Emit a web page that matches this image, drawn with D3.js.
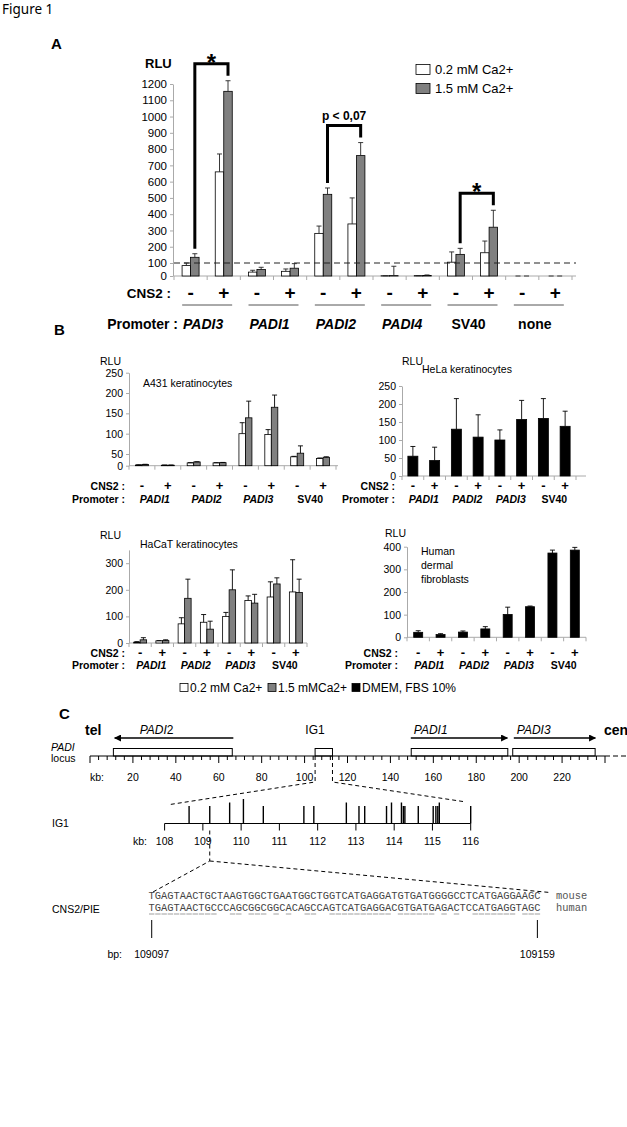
<!DOCTYPE html>
<html><head><meta charset="utf-8">
<script src="https://cdn.jsdelivr.net/npm/d3@7"></script>
<style>
body{margin:0;background:#fff;}
svg text{font-family:"Liberation Sans",Arial,sans-serif;fill:#000;}
</style></head><body>
<svg id="fig" width="627" height="1127"></svg>
<script>
// ---------- panel A data ----------
const aCats = ["PADI3-","PADI3+","PADI1-","PADI1+","PADI2-","PADI2+","PADI4-","PADI4+","SV40-","SV40+","none-","none+"];
const aPromoters = ["PADI3","PADI1","PADI2","PADI4","SV40","none"];
const aLow     = [80, 660, 30, 36, 282, 340, 2, 3, 105, 163, 0, 0];
const aLowErr  = [100, 770, 44, 54, 327, 500, 2, 3, 168, 235, 0, 0];
const aHigh    = [135, 1155, 50, 60, 522, 760, 3, 4, 153, 320, 0, 0];
const aHighErr = [157, 1220, 67, 95, 561, 840, 75, 8, 190, 424, 0, 0];
const aTicks = [0,100,200,300,400,500,600,700,800,900,1000,1100,1200];
const sigLeft = [0, 4, 8];            // index of the "-" bar of each compared pair
const sigLabels = ["*", "p < 0,07", "*"];
const legendA = ["0.2 mM Ca2+", "1.5 mM Ca2+"];

// ---------- panel B data ----------
const bCats = ["PADI1-","PADI1+","PADI2-","PADI2+","PADI3-","PADI3+","SV40-","SV40+"];
const bPromoters = ["PADI1","PADI2","PADI3","SV40"];
const a431Low     = [3, 2, 12, 12, 100, 98, 38, 31];
const a431LowErr  = [4, 3, 13, 13, 127, 110, 40, 33];
const a431High    = [5, 2, 16, 13, 139, 165, 52, 36];
const a431HighErr = [6, 3, 17, 14, 180, 195, 70, 38];
const hela        = [55, 43, 130, 108, 100, 157, 160, 138];
const helaErr     = [82, 80, 215, 170, 128, 210, 215, 180];
const hacatLow     = [3, 8, 72, 78, 100, 160, 173, 192];
const hacatLowErr  = [5, 9, 95, 107, 115, 177, 230, 313];
const hacatHigh    = [12, 9, 168, 52, 200, 150, 222, 190];
const hacatHighErr = [20, 12, 240, 82, 275, 183, 245, 240];
const fibro    = [22, 12, 23, 37, 101, 135, 372, 385];
const fibroErr = [29, 16, 28, 47, 133, 138, 385, 397];
const legendB = ["0.2 mM Ca2+", "1.5 mMCa2+", "DMEM, FBS 10%"];

// ---------- panel C data ----------
const locusTicks = d3.range(0, 241, 4);
const locusLabels = [20,40,60,80,100,120,140,160,180,200,220];
const geneNames = ["PADI2", "PADI1", "PADI3"];
const geneFrom  = [66.8, 149.5, 197.5];   // arrow tail (kb)
const geneTo    = [11.5, 194.5, 235.5];   // arrow head (kb)
const boxFrom   = [10.9, 149.7, 197.0];
const boxTo     = [66.3, 194.7, 235.4];
const ig1Box = [104.9, 113.0];
const ig1Ticks = [108,109,110,111,112,113,114,115,116];
const ig1Sites = [108.64,109.18,109.70,110.06,110.58,111.64,111.90,112.75,113.08,113.23,113.80,113.93,114.19,114.24,114.28,114.63,115.02,115.09,115.14,115.18,116.0];
const ig1Size  = [0,0,1,2,0,0,0,1,0,0,0,1,1,0,0,0,0,0,0,1,0];   // 0 short, 1 medium, 2 tall
const cnsKb = 109.18;
const mouseSeq = "TGAGTAACTGCTAAGTGGCTGAATGGCTGGTCATGAGGATGTGATGGGGCCTCATGAGGAAGC";
const humanSeq = "TGAGTAACTGCCCAGCGGCGGCACAGCCAGTCATGAGGACGTGATGAGACTCCATGAGGTAGC";
const bpLabels = ["109097", "109159"];

const svg = d3.select("#fig");
svg.append("rect").attr("width", 627).attr("height", 1127).attr("fill", "#fff");

function txt(x, y, s, size, opts = {}) {
  return svg.append("text").attr("x", x).attr("y", y).text(s)
    .attr("font-size", size)
    .attr("font-weight", opts.bold ? "bold" : null)
    .attr("font-style", opts.italic ? "italic" : null)
    .attr("text-anchor", opts.anchor || "start")
    .attr("dominant-baseline", "central")
    .style("font-family", opts.family || null)
    .style("fill", opts.fill || null);
}

function drawSeries(g, cats, x, y, vals, errs, fill, off, w, errColor) {
  const cx = i => x(cats[i]) + x.bandwidth() / 2 + off;
  g.append("g").selectAll("rect").data(vals).join("rect")
    .attr("x", (d, i) => cx(i) - w / 2).attr("y", d => y(d))
    .attr("width", w).attr("height", d => y(0) - y(d))
    .attr("fill", fill).attr("stroke", "#000").attr("stroke-width", 0.8);
  g.append("g").selectAll("path").data(errs).join("path")
    .attr("d", (e, i) => `M${cx(i)},${y(vals[i])}V${y(e)}M${cx(i) - 2.5},${y(e)}H${cx(i) + 2.5}`)
    .attr("stroke", errColor || "#222").attr("stroke-width", 0.9).attr("fill", "none");
}

function yAxis(y, ticks, xPos, size) {
  const a = svg.append("g").attr("transform", `translate(${xPos},0)`)
    .call(d3.axisLeft(y).tickValues(ticks).tickFormat(d3.format("d"))
      .tickSize(3).tickSizeOuter(0).tickPadding(3));
  a.select(".domain").attr("stroke", "#aaa");
  a.selectAll(".tick line").attr("stroke", "#aaa");
  a.selectAll("text").attr("font-size", size);
}

function xAxisBand(x, cats, yPos, extra) {
  const [x0, x1] = x.range();
  svg.append("line").attr("x1", x0).attr("x2", x1 + (extra || 0)).attr("y1", yPos).attr("y2", yPos)
    .attr("stroke", "#aaa");
  svg.append("g").selectAll("line").data(cats.map(c => x(c)).concat([x1])).join("line")
    .attr("x1", d => d).attr("x2", d => d).attr("y1", yPos).attr("y2", yPos + 4).attr("stroke", "#aaa");
}

function isPadi(p) { return p.startsWith("PADI"); }

// ================= PANEL A =================
txt(2, 9, "Figure 1", 13.5, {family: "'Noto Sans', sans-serif"});
txt(51, 43, "A", 15, {bold: true});
txt(145, 63, "RLU", 13, {bold: true});

const xA = d3.scaleBand().domain(aCats).range([174, 572]);
const yA = d3.scaleLinear().domain([0, 100, 1200]).range([276, 263, 84]);
yAxis(yA, aTicks, 173, 11.5);
xAxisBand(xA, aCats, 276, 4);
const gA = svg.append("g");
drawSeries(gA, aCats, xA, yA, aLow, aLowErr, "#fff", -4.25, 8.5);
drawSeries(gA, aCats, xA, yA, aHigh, aHighErr, "#808080", 4.25, 8.5);

// threshold line at 100 RLU
svg.append("line").attr("x1", 174).attr("x2", 576).attr("y1", yA(100)).attr("y2", yA(100))
  .attr("stroke", "#222").attr("stroke-width", 1.1).attr("stroke-dasharray", "6,4");

// significance brackets
sigLeft.forEach((i, k) => {
  const xl = xA(aCats[i]) + xA.bandwidth() / 2 + 4.25;
  const xr = xA(aCats[i + 1]) + xA.bandwidth() / 2 + 4.25;
  const yl = yA(aHighErr[i]) - 5, yr = yA(aHighErr[i + 1]) - 5;
  const top = Math.min(yl, yr) - 12;
  svg.append("path").attr("d", `M${xl},${yl}V${top}H${xr}V${yr}`)
    .attr("fill", "none").attr("stroke", "#000").attr("stroke-width", 3);
  const lab = sigLabels[k];
  if (lab === "*") {
    svg.append("text").attr("x", (xl + xr) / 2).attr("y", top + 7).text(lab)
      .attr("font-size", 24).attr("font-weight", "bold").attr("text-anchor", "middle");
  } else {
    txt((xl + xr) / 2, top - 10, lab, 12, {bold: true, anchor: "middle"});
  }
});

// legend A
legendA.forEach((l, i) => {
  svg.append("rect").attr("x", 416).attr("y", 64.5 + i * 19).attr("width", 14).attr("height", 10)
    .attr("fill", i ? "#808080" : "#fff").attr("stroke", "#000").attr("stroke-width", 0.8);
  txt(435, 69.5 + i * 19, l, 13);
});

// CNS2 / promoter rows
txt(171, 293, "CNS2 :", 13.5, {bold: true, anchor: "end"});
aCats.forEach(c => {
  txt(xA(c) + xA.bandwidth() / 2, 292, c.endsWith("+") ? "+" : "-", 19, {bold: true, anchor: "middle"});
});
txt(178, 324, "Promoter :", 14, {bold: true, anchor: "end"});
aPromoters.forEach((p, k) => {
  const cx = xA(aCats[2 * k]) + xA.bandwidth();
  svg.append("line").attr("x1", cx - 25).attr("x2", cx + 25).attr("y1", 305).attr("y2", 305)
    .attr("stroke", "#555").attr("stroke-width", 1);
  txt(cx - 4, 324, p, 14, {bold: true, italic: isPadi(p), anchor: "middle"});
});

// ================= PANEL B =================
txt(54, 329, "B", 15, {bold: true});

function chartB(cfg) {
  yAxis(cfg.y, cfg.ticks, cfg.x.range()[0], 10.5);
  xAxisBand(cfg.x, bCats, cfg.y(0), cfg.extra);
  const g = svg.append("g");
  cfg.series.forEach(s => drawSeries(g, bCats, cfg.x, cfg.y, s.vals, s.errs, s.fill, s.off, s.w, "#000"));
  txt(cfg.rlu[0], cfg.rlu[1], "RLU", 10.5);
  cfg.title.forEach((t, i) => txt(cfg.titlePos[0], cfg.titlePos[1] + i * 14.2, t, 10.5));
  txt(cfg.labelRight, cfg.rowY[0], "CNS2 :", 10.5, {bold: true, anchor: "end"});
  txt(cfg.labelRight, cfg.rowY[1], "Promoter :", 10.5, {bold: true, anchor: "end"});
  bCats.forEach(c => txt(cfg.x(c) + cfg.x.bandwidth() / 2, cfg.rowY[0] - 1, c.endsWith("+") ? "+" : "-", 13, {bold: true, anchor: "middle"}));
  bPromoters.forEach((p, k) => txt(cfg.x(bCats[2 * k]) + cfg.x.bandwidth(), cfg.rowY[1], p, 10.5,
    {bold: true, italic: isPadi(p), anchor: "middle"}));
}

chartB({
  x: d3.scaleBand().domain(bCats).range([129, 336]),
  y: d3.scaleLinear().domain([0, 50, 250]).range([465.7, 454, 372.7]),
  ticks: [0, 50, 100, 150, 200, 250],
  series: [{vals: a431Low, errs: a431LowErr, fill: "#fff", off: -3.25, w: 6.5},
           {vals: a431High, errs: a431HighErr, fill: "#808080", off: 3.25, w: 6.5}],
  rlu: [100, 361], title: ["A431 keratinocytes"], titlePos: [143, 383],
  rowY: [486, 498.5], labelRight: 125, extra: 2
});
chartB({
  x: d3.scaleBand().domain(bCats).range([402, 576]),
  y: d3.scaleLinear().domain([0, 250]).range([476, 386]),
  ticks: [0, 50, 100, 150, 200, 250],
  series: [{vals: hela, errs: helaErr, fill: "#000", off: 0, w: 10}],
  rlu: [402, 361], title: ["HeLa keratinocytes"], titlePos: [422, 369],
  rowY: [486, 498.5], labelRight: 395, extra: 10
});
chartB({
  x: d3.scaleBand().domain(bCats).range([129, 307]),
  y: d3.scaleLinear().domain([0, 350]).range([643, 549.9]),
  ticks: [0, 100, 200, 300],
  series: [{vals: hacatLow, errs: hacatLowErr, fill: "#fff", off: -3.25, w: 6.5},
           {vals: hacatHigh, errs: hacatHighErr, fill: "#808080", off: 3.25, w: 6.5}],
  rlu: [100, 535], title: ["HaCaT keratinocytes"], titlePos: [140, 543.5],
  rowY: [653, 664.5], labelRight: 125, extra: 0
});
chartB({
  x: d3.scaleBand().domain(bCats).range([407, 586]),
  y: d3.scaleLinear().domain([0, 400]).range([637.3, 546.7]),
  ticks: [0, 100, 200, 300, 400],
  series: [{vals: fibro, errs: fibroErr, fill: "#000", off: 0, w: 9}],
  rlu: [385, 533], title: ["Human", "dermal", "fibroblasts"], titlePos: [421, 551],
  rowY: [653, 664.5], labelRight: 398, extra: 0
});

// legend B
const legBx = [180, 268, 352];
const legFill = ["#fff", "#808080", "#000"];
legendB.forEach((l, i) => {
  svg.append("rect").attr("x", legBx[i]).attr("y", 683.5).attr("width", 8).attr("height", 8)
    .attr("fill", legFill[i]).attr("stroke", "#000").attr("stroke-width", 0.8);
  txt(legBx[i] + 10, 688, l, 12);
});

// ================= PANEL C =================
txt(59, 713, "C", 15, {bold: true});
const xk = d3.scaleLinear().domain([0, 240]).range([90, 605]);
const yLoc = 756;

txt(85, 730, "tel", 14, {bold: true});
txt(604, 730, "cen", 14, {bold: true});
txt(315, 730, "IG1", 12, {anchor: "middle"});
txt(51, 746.5, "PADI", 10.5, {italic: true});
txt(51, 757.5, "locus", 10.5);
txt(90, 777, "kb:", 10.5);

svg.append("defs").append("marker").attr("id", "ah").attr("viewBox", "0 0 10 10")
  .attr("refX", 9).attr("refY", 5).attr("markerWidth", 9).attr("markerHeight", 7)
  .attr("markerUnits", "userSpaceOnUse").attr("orient", "auto")
  .append("path").attr("d", "M0,0L10,5L0,10Z").attr("fill", "#000");

geneNames.forEach((n, i) => {
  svg.append("line").attr("x1", xk(geneFrom[i])).attr("x2", xk(geneTo[i]))
    .attr("y1", 738).attr("y2", 738).attr("stroke", "#000").attr("stroke-width", 1.6)
    .attr("marker-end", "url(#ah)");
  svg.append("rect").attr("x", xk(boxFrom[i])).attr("y", 748.5)
    .attr("width", xk(boxTo[i]) - xk(boxFrom[i])).attr("height", yLoc - 748.5)
    .attr("fill", "#fff").attr("stroke", "#000").attr("stroke-width", 1);
  const lx = Math.min(xk(geneFrom[i]), xk(geneTo[i]));
  svg.append("text").attr("x", lx + (i === 0 ? 25 : 3)).attr("y", 730).attr("dominant-baseline", "central")
    .attr("font-size", 12).attr("font-style", "italic")
    .call(t => { t.append("tspan").text(n.slice(0, 4)); t.append("tspan").text(n.slice(4)).attr("font-style", i === 0 ? "normal" : "italic"); });
});
svg.append("rect").attr("x", xk(ig1Box[0])).attr("y", 748.5)
  .attr("width", xk(ig1Box[1]) - xk(ig1Box[0])).attr("height", yLoc - 748.5)
  .attr("fill", "#fff").attr("stroke", "#000").attr("stroke-width", 1);

svg.append("line").attr("x1", xk(0)).attr("x2", xk(240)).attr("y1", yLoc).attr("y2", yLoc)
  .attr("stroke", "#000").attr("stroke-width", 1.2);
svg.append("line").attr("x1", xk(240)).attr("x2", 627).attr("y1", yLoc).attr("y2", yLoc)
  .attr("stroke", "#000").attr("stroke-width", 1.2).attr("stroke-dasharray", "5,3");
svg.append("g").selectAll("line").data(locusTicks).join("line")
  .attr("x1", d => xk(d)).attr("x2", d => xk(d)).attr("y1", yLoc)
  .attr("y2", d => yLoc + (d % 20 === 0 ? 7 : 4)).attr("stroke", "#000").attr("stroke-width", 1);
locusLabels.forEach(d => txt(xk(d), 777, d, 10.5, {anchor: "middle"}));

// zoom lines locus -> IG1
const xi = d3.scaleLinear().domain([108, 116]).range([164.6, 470.7]);
const yIg = 823.5;
const dash = p => svg.append("path").attr("d", p).attr("fill", "none").attr("stroke", "#000")
  .attr("stroke-width", 1).attr("stroke-dasharray", "4,3");
dash(`M${xk(ig1Box[0])},${yLoc}V782L170,804.5`);
dash(`M${xk(ig1Box[1])},${yLoc}V782L463,801.5`);

// IG1 detail
txt(52, 823, "IG1", 10.5);
txt(133, 841, "kb:", 10.5);
svg.append("line").attr("x1", xi(108)).attr("x2", xi(116)).attr("y1", yIg).attr("y2", yIg)
  .attr("stroke", "#000").attr("stroke-width", 1.2);
svg.append("g").selectAll("line").data(ig1Ticks).join("line")
  .attr("x1", d => xi(d)).attr("x2", d => xi(d)).attr("y1", yIg).attr("y2", yIg + 7)
  .attr("stroke", "#000");
ig1Ticks.forEach(d => txt(xi(d), 841, d, 10.5, {anchor: "middle"}));
const siteTop = [806, 802.5, 799];
svg.append("g").selectAll("line").data(ig1Sites).join("line")
  .attr("x1", d => xi(d)).attr("x2", d => xi(d)).attr("y1", yIg)
  .attr("y2", (d, i) => siteTop[ig1Size[i]]).attr("stroke", "#000").attr("stroke-width", 1.4);

// zoom lines IG1 -> CNS2
dash(`M${xi(cnsKb)},${yIg + 7}V861L152,892.5`);
dash(`M${xi(cnsKb)},861L550,892.5`);

// sequences
const seqX = d3.scaleLinear().domain([0, mouseSeq.length]).range([148.6, 540.5]);
const monoFont = "'Liberation Mono', 'DejaVu Sans Mono', monospace";
[mouseSeq, humanSeq].forEach((s, k) => {
  svg.append("text").attr("x", seqX(0)).attr("y", 896 + k * 11.8).text(s)
    .attr("dominant-baseline", "central").attr("font-size", 10.4)
    .attr("textLength", seqX(s.length) - seqX(0)).attr("lengthAdjust", "spacingAndGlyphs")
    .style("font-family", monoFont).style("fill", "#444");
});
txt(556, 896, "mouse", 10.4, {family: monoFont, fill: "#555"});
txt(556, 907.8, "human", 10.4, {family: monoFont, fill: "#555"});
// underline conserved bases
const matchIdx = d3.range(humanSeq.length).filter(i => humanSeq[i] === mouseSeq[i]);
svg.append("g").selectAll("line").data(matchIdx).join("line")
  .attr("x1", i => seqX(i) + 0.4).attr("x2", i => seqX(i + 1) - 0.4)
  .attr("y1", 914).attr("y2", 914).attr("stroke", "#777").attr("stroke-width", 0.7);
txt(52, 908.7, "CNS2/PIE", 10.5);

[0, humanSeq.length - 1].forEach((i, k) => {
  const cx = seqX(i + 0.5);
  svg.append("line").attr("x1", cx).attr("x2", cx).attr("y1", 920).attr("y2", 938)
    .attr("stroke", "#000");
  txt(cx, 953.7, bpLabels[k], 10.5, {anchor: "middle"});
});
txt(107.4, 953.7, "bp:", 10.5);
</script>
</body></html>
